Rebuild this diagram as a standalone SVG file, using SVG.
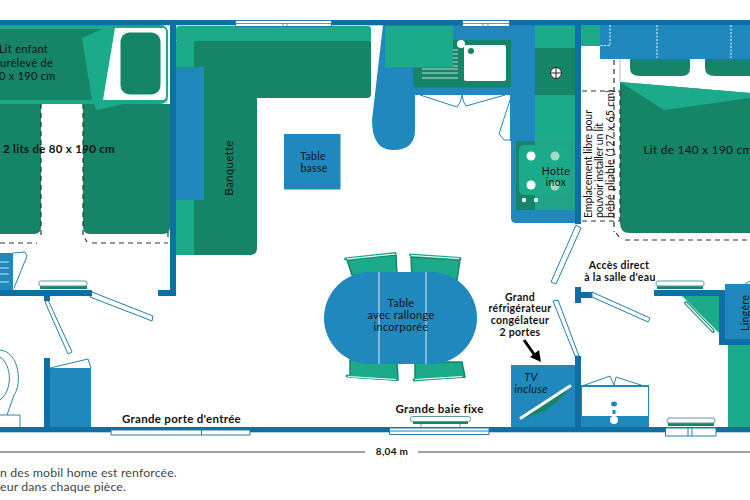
<svg xmlns="http://www.w3.org/2000/svg" width="750" height="500" viewBox="0 0 750 500">
<style>
.wall{fill:#0f6ea3}.blue{fill:#2088bd}.dg{fill:#158467}.lg{fill:#1cab8a}
.ol{fill:#fff;stroke:#1f7fa8;stroke-width:1}
.mir{fill:#fff;stroke:#5f9aa0;stroke-width:1}
.oln{fill:none;stroke:#2a86a8;stroke-width:1}
.dash{fill:none;stroke:#333;stroke-width:1.2;stroke-dasharray:5 4}
.dots{fill:none;stroke:#fff;stroke-width:1;stroke-dasharray:2 1.500}
.wl{stroke:#d8edf2;stroke-width:1;fill:none}
.chair{fill:#1cab8a;stroke:#158467;stroke-width:1.500}
.bar{stroke:#1cab8a;stroke-width:3;stroke-linecap:round}
.barw{stroke:#fff;stroke-width:1.200}
text{font-family:"Lato","Liberation Sans",sans-serif;fill:#111;font-size:11px;text-anchor:middle;letter-spacing:.3px}
.b{font-weight:700}
.s{font-size:10.500px;font-weight:700}
.v{font-size:10.500px;text-anchor:start;letter-spacing:0}
.n{font-size:12.300px;text-anchor:start;fill:#444;letter-spacing:.15px}
</style>
<rect width="750" height="500" fill="#fff"/>
<g id="chambre-enfants">
<path class="lg" d="M0 25H160Q168 25 168 33V96Q168 104 160 104H0Z"/>
<path class="dg" d="M0 29H102L82 38L100 100H0Z"/>
<path class="dg" d="M0 104H41V227Q41 234 34 234H0Z"/>
<path class="dg" d="M83 104H170V227Q170 234 163 234H90Q83 234 83 227Z"/>
<path class="lg" d="M82 38L115 27V100L128 103L97 110L92 100Z"/>
<path d="M115 28H163Q166 28 166 32V96Q166 100 162 100H103Z" fill="#fff"/>
<rect class="dg" x="120.500" y="32.500" width="40" height="62" rx="9"/>
<path class="dash" d="M41 104V237M83 104V235L87 242M168 232V238M0 243H37M92 243H168"/>
<text x="23.500" y="53">Lit enfant</text><text x="24" y="67">surélevé de</text><text x="24" y="80">80 x 190 cm</text>
<text x="59" y="153" class="b" style="font-size:11.500px">2 lits de 80 x 190 cm</text>
</g>
<g id="banquette"><rect class="lg" x="176" y="26" width="195" height="16" rx="3"/><path class="lg" d="M176 41H195V255H176Z"/>
<path class="dg" d="M194 41H371V94Q371 98 367 98H257V248Q257 255 250 255H194Z"/>
<rect class="blue" x="176" y="67" width="28" height="133"/>
<text transform="translate(233 168) rotate(-90)" style="font-size:11.500px">Banquette</text></g>
<g id="table-basse"><rect class="blue" x="284" y="134" width="56.500" height="55.500"/><text x="313" y="159.500" style="font-size:10.500px">Table</text><text x="314" y="171.500" style="font-size:10.500px">basse</text></g>
<g id="cuisine"><path class="blue" d="M383 25H535V141H510V95H415V130Q415 150 393 150Q372 150 372 120Z"/>
<rect class="dg" x="413" y="40" width="98" height="47.500"/>
<rect class="lg" x="385" y="26" width="68" height="41.500"/>
<path d="M453 50H458M453 54H458M453 58H458M453 62H458M453 66H458M422 69H458M422 73H458M422 78H458" stroke="#bfe3d6" stroke-width="1"/>
<rect x="464" y="45" width="42" height="36" rx="2" fill="#fff"/>
<path d="M461 44L471 51" stroke="#fff" stroke-width="1.500"/>
<circle cx="461" cy="44" r="4" fill="#fff"/><circle class="dg" cx="471" cy="51" r="3"/>
<rect class="lg" x="535" y="25" width="40" height="116"/><rect class="dg" x="535" y="48" width="40" height="47"/>
<circle cx="556" cy="73" r="5.500" fill="#fff" stroke="#222"/><path d="M550 73H562M556 67V79" stroke="#222"/>
<path class="blue" d="M511 141H580V223H516Q511 223 511 218Z"/>
<rect class="dg" x="516" y="141" width="19" height="69"/><rect x="535" y="141" width="40" height="69" fill="#23a388"/>
<rect class="lg" x="519" y="145" width="50" height="50" rx="5"/>
<circle cx="531" cy="156" r="4.500" fill="#fff"/><circle cx="555" cy="156" r="4.500" fill="#a6d8c8"/><circle cx="531" cy="185" r="4.500" fill="#fff"/><circle cx="555" cy="186" r="4.500" fill="#a6d8c8"/><circle cx="524" cy="200" r="2.200" fill="#fff"/><circle cx="536" cy="200" r="2.200" fill="#cfe"/>
<text x="556" y="175" style="font-size:10.500px">Hotte</text><text x="556" y="186" style="font-size:10.500px">inox</text>
<path class="oln" d="M420 95L457 107Q461 103 462 95M462 95Q463 103 466 106L505 95M510 100L499 134L504 140H510"/></g>
<g id="murs">
<rect class="wall" x="0" y="20" width="750" height="5.300"/>
<rect class="wall" x="170" y="25" width="6" height="271"/><rect class="wall" x="158" y="290" width="17" height="6"/>
<rect class="wall" x="575" y="25" width="6" height="199"/>
<rect class="wall" x="0" y="427" width="750" height="5.300"/>
</g>
<g id="fenetres-haut"><rect class="ol" x="235.500" y="20.500" width="96" height="6"/><path d="M235 23.500H332M283 23V27M287 23V27" stroke="#2a86a8" stroke-width=".8"/>
<rect class="ol" x="462.500" y="20.500" width="47" height="6"/><path d="M462 23.500H510M483 23V27M488 23V27" stroke="#2a86a8" stroke-width=".8"/></g>
<g id="lit-140"><rect class="lg" x="581" y="25" width="19" height="21"/><rect class="blue" x="600" y="25" width="150" height="34"/>
<path class="dg" d="M630 59H690V68Q690 76 682 76H640Q630 76 630 68ZM705 59H750V76H715Q705 76 705 68Z"/>
<path d="M620 59V82" stroke="#b8b8b8"/>
<path class="dg" d="M620 82L750 93V233H630Q620 233 620 223Z"/>
<path class="lg" d="M620 82L750 93V98L664 110Z"/>
<path class="dots" d="M610 25V45.500H600M657 25V58M731 25V58"/>
<text x="698" y="154" style="font-size:11.800px">Lit de 140 x 190 cm</text></g>
<g id="emplacement"><path class="dash" d="M582 91H620M582 221H620M614 60V232M620 91V221M616 233L620 238M625 240H750"/>
<text transform="translate(592 218) rotate(-90)" class="v" textLength="108">Emplacement libre pour</text><text transform="translate(603 218) rotate(-90)" class="v" textLength="95">pouvoir installer un lit</text><text transform="translate(614 218) rotate(-90)" class="v" textLength="128">bébé pliable  (127 x 65 cm)</text></g>
<g id="table"><path class="chair" d="M347 260L396 255L397 275H352ZM411 257L460 260L457 280H412ZM350 360H397L398 380L350 377ZM415 362H462L465 377L415 380Z"/>
<path class="bar" d="M345.500 259L395 253.500M410.500 255L460 258.500M347 376L397 379.500M414 380L463 376"/>
<path class="barw" d="M347 259L395 254M411 255.500L459 258.500M348 376.500L396 379.500M415 379.500L462 376.500"/>
<rect class="blue" x="324" y="272" width="153" height="92" rx="46" ry="46"/>
<path class="wl" d="M379 272V364M426 272V364"/>
<text x="401" y="307">Table</text><text x="401" y="319">avec rallonge</text><text x="401" y="331">incorporée</text></g>
<g id="facade">
<path class="ol" d="M111 430H250V435H111ZM201.500 430V435"/><path class="ol" d="M389.500 428H489V434.500H389.500ZM389.500 431H489"/>
<path class="ol" d="M665.500 428H716V436H665.500ZM688 428V436M692 428V436"/>
<rect class="dg" x="413" y="421" width="55" height="3"/><rect class="mir" x="410.500" y="416.500" width="60" height="5" rx="2"/><path d="M421 424V427M460 424V427" stroke="#5f9aa0"/>
<rect class="dg" x="668" y="423" width="46" height="3"/><rect class="mir" x="667" y="418" width="48" height="5" rx="2"/>
<text x="181.500" y="423" class="b" style="font-size:11.500px">Grande porte d'entrée</text><text x="439.500" y="413" class="b" style="font-size:11.500px">Grande baie fixe</text>
</g>
<g id="frigo"><rect class="blue" x="511" y="365" width="64" height="62"/><rect class="wall" x="575" y="356" width="6" height="71"/>
<path class="dg" d="M521 419Q555 411 570 387Z"/><path d="M521 418L570 386" stroke="#fff" stroke-width="3" stroke-linecap="round"/>
<text x="531" y="381" style="font-style:italic">TV</text><text x="531" y="393" style="font-style:italic">incluse</text>
<text x="520" y="301" class="s">Grand</text><text x="520" y="312" class="s">réfrigérateur</text><text x="520" y="324" class="s">congélateur</text><text x="520" y="336" class="s">2 portes</text>
<path d="M524 340L536 357" stroke="#000" stroke-width="3"/><path d="M530 357L541 362L539 350Z"/></g>
<g id="meuble-eau"><rect class="blue" x="581" y="385" width="68" height="42"/><rect x="582" y="387" width="66" height="29" fill="#fff"/><path class="oln" d="M582 386L610 376L614 385L616 377L644 386"/>
<ellipse class="blue" cx="614" cy="404" rx="3" ry="2.500"/><circle cx="614" cy="420" r="4" fill="#fff"/><rect x="612.500" y="410" width="3" height="4" class="blue"/></g>
<g id="portes"><path class="ol" d="M576 225L581 228L556 284L551 282Z"/><path class="ol" d="M553 301L558 300L579 356H575Z"/>
<path class="wall" d="M575 287H581V292H592V298H581V303H575Z"/><path class="ol" d="M592 292L650 318L648 322L592 297Z"/>
<text x="619" y="269" class="s">Accès direct</text><text x="620" y="281" class="s">à la salle d'eau</text>
<path class="ol" d="M92 292L153 316L152 321L90 297Z"/><path class="ol" d="M45 302L48 300L72 352L68 354Z"/></g>
<g id="salle-eau"><rect class="lg" x="728" y="345" width="22" height="82"/><path class="lg" d="M682 296H719V333Z"/>
<rect class="wall" x="654" y="290" width="71" height="6"/><path class="wall" d="M719 296H725V284H750V345H719Z"/><rect class="blue" x="725" y="284" width="25" height="55"/>
<path d="M686 303L713 331" stroke="#158467" stroke-width="3.500" stroke-linecap="round"/><path d="M686 303L713 331" stroke="#fff" stroke-width="1.500"/>
<path class="oln" d="M745 284L750 281"/>
<rect class="dg" x="657" y="286" width="46" height="3"/><rect class="mir" x="656" y="281" width="48" height="5" rx="2"/>
<text transform="translate(749 313) rotate(-90)" style="font-size:10.500px">Lingère</text></g>
<g id="wc"><rect class="wall" x="0" y="290" width="92" height="6"/><rect class="wall" x="44" y="296" width="6" height="5"/>
<rect class="blue" x="0" y="253" width="13" height="37"/><path d="M0 262H9M0 268H9M0 274H9M0 282H9" stroke="#cfe4ee" stroke-width="1.200"/>
<path class="oln" d="M13 253L25 252L27 256L14 288"/>
<rect class="wall" x="44" y="358" width="6" height="70"/><rect class="blue" x="50" y="368" width="41" height="59"/><path class="oln" d="M50 368L88 359L91 368"/>
<path class="oln" d="M0 350C20 352 22 385 14 395L7 415M0 357C12 365 13 390 0 400"/><path class="oln" d="M0 415H20V427"/>
<rect class="dg" x="40" y="286" width="47" height="3"/><rect class="mir" x="39" y="281" width="48" height="5" rx="2"/></g>
<g id="cotes"><path d="M0 452H365M418 452H750" stroke="#444"/><text x="392" y="455" class="b" style="font-size:10px">8,04 m</text>
<text x="0" y="477" class="n">n des mobil home est renforcée.</text><text x="0" y="491" class="n">eur dans chaque pièce.</text></g>
</svg>
